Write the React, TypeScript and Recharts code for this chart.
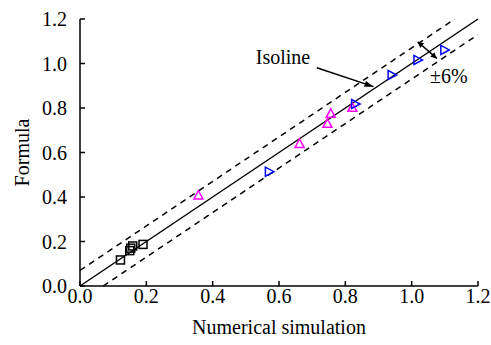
import React from 'react';
import {
  ComposedChart, XAxis, YAxis, Scatter, ReferenceLine, ReferenceDot, Label,
} from 'recharts';

// ---- data ----
const squareX = [0.122, 0.150, 0.153, 0.159, 0.190];
const squareY = [0.117, 0.159, 0.170, 0.180, 0.187];
const magentaX = [0.357, 0.662, 0.746, 0.756, 0.821];
const magentaY = [0.409, 0.641, 0.731, 0.776, 0.803];
const blueX = [0.571, 0.831, 0.941, 1.019, 1.100];
const blueY = [0.514, 0.818, 0.948, 1.016, 1.061];
const axisTicks = [0, 0.2, 0.4, 0.6, 0.8, 1.0, 1.2];
const bandOffset = 0.07;
const axisMax = 1.2;
// annotation anchors (data coordinates)
const isolineArrow = [{ x: 0.714, y: 0.981 }, { x: 0.885, y: 0.896 }];
const isolineText = { x: 0.694, y: 1.0, text: 'Isoline' };
const bandArrow = [{ x: 1.018, y: 1.098 }, { x: 1.076, y: 1.023 }];
const bandText = { x: 1.055, y: 0.912, text: '±6%' };

const zip = (xs: number[], ys: number[]) => xs.map((x, i) => ({ x, y: ys[i] }));
const squares = zip(squareX, squareY);
const magentas = zip(magentaX, magentaY);
const blues = zip(blueX, blueY);

const FONT = 'Liberation Serif';
const FS = 20;

const SquareShape = (p: any) => (
  <rect x={p.cx - 4} y={p.cy - 4} width={8} height={8} fill="none" stroke="#000" strokeWidth={1.5} />
);
const TriUp = (p: any) => (
  <polygon
    points={`${p.cx - 4.5},${p.cy + 4} ${p.cx + 4.5},${p.cy + 4} ${p.cx},${p.cy - 4.5}`}
    fill="none" stroke="#ff00ff" strokeWidth={1.5}
  />
);
const TriRight = (p: any) => (
  <polygon
    points={`${p.cx - 4},${p.cy - 4.5} ${p.cx - 4},${p.cy + 4.5} ${p.cx + 4.5},${p.cy}`}
    fill="none" stroke="#0000ff" strokeWidth={1.5}
  />
);

const head = (x1: number, y1: number, x2: number, y2: number, len: number, half: number) => {
  const dx = x2 - x1, dy = y2 - y1;
  const L = Math.hypot(dx, dy) || 1;
  const ux = dx / L, uy = dy / L;
  const bx = x2 - ux * len, by = y2 - uy * len;
  return `${x2},${y2} ${bx - uy * half},${by + ux * half} ${bx + uy * half},${by - ux * half}`;
};

const SingleArrow = (p: any) => (
  <g>
    <line x1={p.x1} y1={p.y1} x2={p.x2} y2={p.y2} stroke="#000" strokeWidth={1.5} />
    <polygon points={head(p.x1, p.y1, p.x2, p.y2, 9, 3)} fill="#000" />
  </g>
);
const DoubleArrow = (p: any) => (
  <g>
    <line x1={p.x1} y1={p.y1} x2={p.x2} y2={p.y2} stroke="#000" strokeWidth={1.5} />
    <polygon points={head(p.x1, p.y1, p.x2, p.y2, 6, 3)} fill="#000" />
    <polygon points={head(p.x2, p.y2, p.x1, p.y1, 6, 3)} fill="#000" />
  </g>
);
const makeText = (t: string, anchor: string) => (p: any) => (
  <text x={p.cx} y={p.cy} textAnchor={anchor} fontFamily={FONT} fontSize={FS} fill="#000">{t}</text>
);

export default function App() {
  return (
    <div style={{ position: 'absolute', left: 0, top: 0, width: 491, height: 345, background: '#fff' }}>
      <ComposedChart width={491} height={345} margin={{ top: 19, right: 13, left: 0, bottom: 0 }}>
        <XAxis
          type="number" dataKey="x" domain={[0, axisMax]} ticks={axisTicks}
          tickFormatter={(v: number) => v.toFixed(1)} allowDataOverflow
          height={59} stroke="#000" strokeWidth={1.5} tickSize={-5} tickMargin={8}
          tick={{ fill: '#000', fontFamily: FONT, fontSize: FS }}
        >
          <Label value="Numerical simulation" position="insideBottom" offset={11}
            style={{ fill: '#000', fontFamily: FONT, fontSize: FS }} />
        </XAxis>
        <YAxis
          type="number" dataKey="y" domain={[0, axisMax]} ticks={axisTicks}
          tickFormatter={(v: number) => v.toFixed(1)} allowDataOverflow
          width={80} stroke="#000" strokeWidth={1.5} tickSize={-5} tickMargin={18}
          tick={{ fill: '#000', fontFamily: FONT, fontSize: FS }}
        >
          <Label value="Formula" angle={-90} position="center" dx={-18}
            style={{ fill: '#000', fontFamily: FONT, fontSize: FS, textAnchor: 'middle' }} />
        </YAxis>
        <ReferenceLine segment={[{ x: 0, y: 0 }, { x: axisMax, y: axisMax }]} stroke="#000" strokeWidth={1.5} />
        <ReferenceLine segment={[{ x: 0, y: bandOffset }, { x: axisMax - bandOffset, y: axisMax }]}
          stroke="#000" strokeWidth={1.5} strokeDasharray="6 5" />
        <ReferenceLine segment={[{ x: bandOffset, y: 0 }, { x: axisMax, y: axisMax - bandOffset }]}
          stroke="#000" strokeWidth={1.5} strokeDasharray="6 5" />
        <ReferenceLine segment={isolineArrow} shape={SingleArrow} />
        <ReferenceLine segment={bandArrow} shape={DoubleArrow} />
        <ReferenceDot x={isolineText.x} y={isolineText.y} r={0} shape={makeText(isolineText.text, 'end')} />
        <ReferenceDot x={bandText.x} y={bandText.y} r={0} shape={makeText(bandText.text, 'start')} />
        <Scatter data={squares} shape={SquareShape} isAnimationActive={false} />
        <Scatter data={magentas} shape={TriUp} isAnimationActive={false} />
        <Scatter data={blues} shape={TriRight} isAnimationActive={false} />
      </ComposedChart>
    </div>
  );
}
